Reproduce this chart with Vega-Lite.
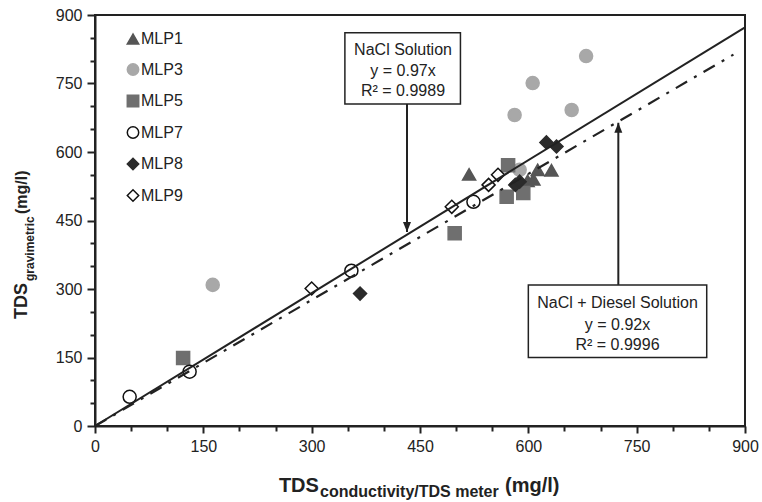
{
  "$schema": "https://vega.github.io/schema/vega-lite/v6.json",
  "autosize": {"type": "none"},
  "width": 650,
  "height": 411,
  "padding": {"left": 95, "top": 15, "right": 17, "bottom": 76},
  "background": "white",
  "config": {
    "view": {"stroke": "#222", "strokeWidth": 2},
    "font": "Liberation Sans"
  },
  "datasets": {
    "pts": [
      {"series": "MLP1", "x": 518, "y": 551},
      {"series": "MLP1", "x": 599, "y": 537},
      {"series": "MLP1", "x": 607, "y": 540},
      {"series": "MLP1", "x": 613, "y": 561},
      {"series": "MLP1", "x": 632, "y": 560},
      {"series": "MLP3", "x": 163, "y": 309},
      {"series": "MLP3", "x": 581, "y": 681},
      {"series": "MLP3", "x": 606, "y": 751},
      {"series": "MLP3", "x": 660, "y": 692},
      {"series": "MLP3", "x": 680, "y": 810},
      {"series": "MLP3", "x": 588, "y": 561},
      {"series": "MLP5", "x": 122, "y": 149},
      {"series": "MLP5", "x": 498, "y": 422},
      {"series": "MLP5", "x": 570, "y": 502},
      {"series": "MLP5", "x": 572, "y": 571},
      {"series": "MLP5", "x": 593, "y": 510},
      {"series": "MLP7", "x": 48, "y": 64},
      {"series": "MLP7", "x": 131, "y": 119},
      {"series": "MLP7", "x": 355, "y": 340},
      {"series": "MLP7", "x": 524, "y": 491},
      {"series": "MLP8", "x": 367, "y": 290},
      {"series": "MLP8", "x": 582, "y": 528},
      {"series": "MLP8", "x": 588, "y": 535},
      {"series": "MLP8", "x": 625, "y": 621},
      {"series": "MLP8", "x": 639, "y": 612},
      {"series": "MLP9", "x": 300, "y": 301},
      {"series": "MLP9", "x": 494, "y": 480},
      {"series": "MLP9", "x": 545, "y": 528},
      {"series": "MLP9", "x": 558, "y": 550}
    ],
    "fits": [
      {"model": "NaCl", "x": 0, "y": 0},
      {"model": "NaCl", "x": 900, "y": 873},
      {"model": "Diesel", "x": 0, "y": 0},
      {"model": "Diesel", "x": 884, "y": 813.3}
    ],
    "boxes": [
      {"x": 346, "x2": 506, "y": 705, "y2": 861},
      {"x": 600, "x2": 847, "y": 150, "y2": 309}
    ],
    "arrows": [
      {"x": 432, "y": 705, "y2": 425},
      {"x": 724.6, "y": 309, "y2": 664}
    ],
    "boxText": [
      {"x": 426.5, "y": 812, "text": "NaCl Solution"},
      {"x": 426.5, "y": 767.5, "text": "y = 0.97x"},
      {"x": 426.5, "y": 722.6, "text": "R² = 0.9989"},
      {"x": 723.5, "y": 257.7, "text": "NaCl + Diesel Solution"},
      {"x": 723.5, "y": 210, "text": "y = 0.92x"},
      {"x": 723.5, "y": 166.4, "text": "R² = 0.9996"}
    ]
  },
  "layer": [
    {
      "data": {"name": "pts"},
      "mark": {"type": "point", "filled": true, "strokeWidth": 1.5, "opacity": 1, "size": 170},
      "encoding": {
        "x": {"field": "x", "type": "quantitative",
          "scale": {"domain": [0, 900], "nice": false, "zero": true},
          "axis": {
            "values": [0,50,100,150,200,250,300,350,400,450,500,550,600,650,700,750,800,850,900],
            "tickCount": 100,
            "labelOpacity": {"condition": {"test": "datum.value % 150 === 0", "value": 1}, "value": 0},
            "title": null, "grid": false,
            "domainColor": "#222", "domainWidth": 2,
            "tickColor": "#222", "tickWidth": 2,
            "tickSize": {"condition": {"test": "datum.value % 150 === 0", "value": 7}, "value": 5},
            "labelFontSize": 16, "labelFont": "Liberation Sans", "labelColor": "#222",
            "labelPadding": 5, "labelFlush": false, "labelOverlap": false, "labelBound": false
          }
        },
        "y": {"field": "y", "type": "quantitative",
          "scale": {"domain": [0, 900], "nice": false, "zero": true},
          "axis": {
            "values": [0,50,100,150,200,250,300,350,400,450,500,550,600,650,700,750,800,850,900],
            "tickCount": 100,
            "labelOpacity": {"condition": {"test": "datum.value % 150 === 0", "value": 1}, "value": 0},
            "title": null, "grid": false,
            "domainColor": "#222", "domainWidth": 2,
            "tickColor": "#222", "tickWidth": 2,
            "tickSize": {"condition": {"test": "datum.value % 150 === 0", "value": 8}, "value": 5},
            "labelFontSize": 16, "labelFont": "Liberation Sans", "labelColor": "#222",
            "labelPadding": 5, "labelFlush": false, "labelOverlap": false, "labelBound": false
          }
        },
        "shape": {"field": "series", "type": "nominal",
          "scale": {"domain": ["MLP1","MLP3","MLP5","MLP7","MLP8","MLP9"],
                    "range": ["triangle-up","circle","square","circle","diamond","diamond"]},
          "legend": {"orient": "none", "legendX": 30, "legendY": 16, "title": null,
                     "labelFontSize": 16, "labelFont": "Liberation Sans", "labelColor": "#222",
                     "symbolSize": 130, "rowPadding": 13.5, "padding": 0, "labelOffset": 0,
                     "symbolStrokeWidth": 1.5}
        },
        "fill": {"field": "series", "type": "nominal",
          "scale": {"domain": ["MLP1","MLP3","MLP5","MLP7","MLP8","MLP9"],
                    "range": ["#555555","#a8a8a8","#6f6f6f","#ffffff","#2b2b2b","#ffffff"]},
          "legend": {"orient": "none", "legendX": 30, "legendY": 16, "title": null,
                     "labelFontSize": 16, "labelFont": "Liberation Sans", "labelColor": "#222",
                     "symbolSize": 130, "rowPadding": 13.5, "padding": 0, "labelOffset": 0,
                     "symbolStrokeWidth": 1.5}
        },
        "stroke": {"field": "series", "type": "nominal",
          "scale": {"domain": ["MLP1","MLP3","MLP5","MLP7","MLP8","MLP9"],
                    "range": ["#555555","#a8a8a8","#6f6f6f","#111111","#2b2b2b","#111111"]},
          "legend": {"orient": "none", "legendX": 30, "legendY": 16, "title": null,
                     "labelFontSize": 16, "labelFont": "Liberation Sans", "labelColor": "#222",
                     "symbolSize": 130, "rowPadding": 13.5, "padding": 0, "labelOffset": 0,
                     "symbolStrokeWidth": 1.5}
        }
      }
    },
    {
      "data": {"name": "fits"},
      "transform": [{"filter": "datum.model === 'NaCl'"}],
      "mark": {"type": "line", "color": "#222", "strokeWidth": 2},
      "encoding": {
        "x": {"field": "x", "type": "quantitative"},
        "y": {"field": "y", "type": "quantitative"}
      }
    },
    {
      "data": {"name": "fits"},
      "transform": [{"filter": "datum.model === 'Diesel'"}],
      "mark": {"type": "line", "color": "#222", "strokeWidth": 2.2, "strokeDash": [13, 8, 3, 8]},
      "encoding": {
        "x": {"field": "x", "type": "quantitative"},
        "y": {"field": "y", "type": "quantitative"}
      }
    },
    {
      "data": {"name": "arrows"},
      "mark": {"type": "rule", "color": "#222", "strokeWidth": 2},
      "encoding": {
        "x": {"field": "x", "type": "quantitative"},
        "y": {"field": "y", "type": "quantitative"},
        "y2": {"field": "y2"}
      }
    },
    {
      "data": {"name": "arrows"},
      "mark": {"type": "point", "filled": true, "color": "#222", "opacity": 1, "size": 400,
               "shape": {"expr": "datum.y2 < datum.y ? 'M0,0L-0.4,-1L0.4,-1Z' : 'M0,0L-0.4,1L0.4,1Z'"}},
      "encoding": {
        "x": {"field": "x", "type": "quantitative"},
        "y": {"field": "y2", "type": "quantitative"}
      }
    },
    {
      "data": {"name": "boxes"},
      "mark": {"type": "rect", "fill": "white", "stroke": "#222", "strokeWidth": 1.5},
      "encoding": {
        "x": {"field": "x", "type": "quantitative"},
        "x2": {"field": "x2"},
        "y": {"field": "y", "type": "quantitative"},
        "y2": {"field": "y2"}
      }
    },
    {
      "data": {"name": "boxText"},
      "mark": {"type": "text", "fontSize": 16, "font": "Liberation Sans", "color": "#222",
               "align": "center", "baseline": "alphabetic"},
      "encoding": {
        "x": {"field": "x", "type": "quantitative"},
        "y": {"field": "y", "type": "quantitative"},
        "text": {"field": "text"}
      }
    },
    {
      "data": {"values": [{"x": 310, "y": -144.5, "text": "TDS"}]},
      "mark": {"type": "text", "fontSize": 20, "fontWeight": "bold", "font": "Liberation Sans",
               "color": "#222", "align": "right", "baseline": "alphabetic"},
      "encoding": {
        "x": {"field": "x", "type": "quantitative"},
        "y": {"field": "y", "type": "quantitative"},
        "text": {"field": "text"}
      }
    },
    {
      "data": {"values": [{"x": 311.6, "y": -155.5, "text": "conductivity/TDS meter"}]},
      "mark": {"type": "text", "fontSize": 16, "fontWeight": "bold", "font": "Liberation Sans",
               "color": "#222", "align": "left", "baseline": "alphabetic"},
      "encoding": {
        "x": {"field": "x", "type": "quantitative"},
        "y": {"field": "y", "type": "quantitative"},
        "text": {"field": "text"}
      }
    },
    {
      "data": {"values": [{"x": 567.7, "y": -144.5, "text": "(mg/l)"}]},
      "mark": {"type": "text", "fontSize": 20, "fontWeight": "bold", "font": "Liberation Sans",
               "color": "#222", "align": "left", "baseline": "alphabetic"},
      "encoding": {
        "x": {"field": "x", "type": "quantitative"},
        "y": {"field": "y", "type": "quantitative"},
        "text": {"field": "text"}
      }
    },
    {
      "data": {"values": [{"x": -94, "y": 313.1, "text": "TDS"}]},
      "mark": {"type": "text", "fontSize": 18, "fontWeight": "bold", "font": "Liberation Sans",
               "color": "#222", "align": "right", "baseline": "alphabetic", "angle": 270},
      "encoding": {
        "x": {"field": "x", "type": "quantitative"},
        "y": {"field": "y", "type": "quantitative"},
        "text": {"field": "text"}
      }
    },
    {
      "data": {"values": [{"x": -84.5, "y": 317.5, "text": "gravimetric"}]},
      "mark": {"type": "text", "fontSize": 12, "fontWeight": "bold", "font": "Liberation Sans",
               "color": "#222", "align": "left", "baseline": "alphabetic", "angle": 270},
      "encoding": {
        "x": {"field": "x", "type": "quantitative"},
        "y": {"field": "y", "type": "quantitative"},
        "text": {"field": "text"}
      }
    },
    {
      "data": {"values": [{"x": -94, "y": 464.2, "text": "(mg/l)"}]},
      "mark": {"type": "text", "fontSize": 16, "fontWeight": "bold", "font": "Liberation Sans",
               "color": "#222", "align": "left", "baseline": "alphabetic", "angle": 270},
      "encoding": {
        "x": {"field": "x", "type": "quantitative"},
        "y": {"field": "y", "type": "quantitative"},
        "text": {"field": "text"}
      }
    }
  ]
}
